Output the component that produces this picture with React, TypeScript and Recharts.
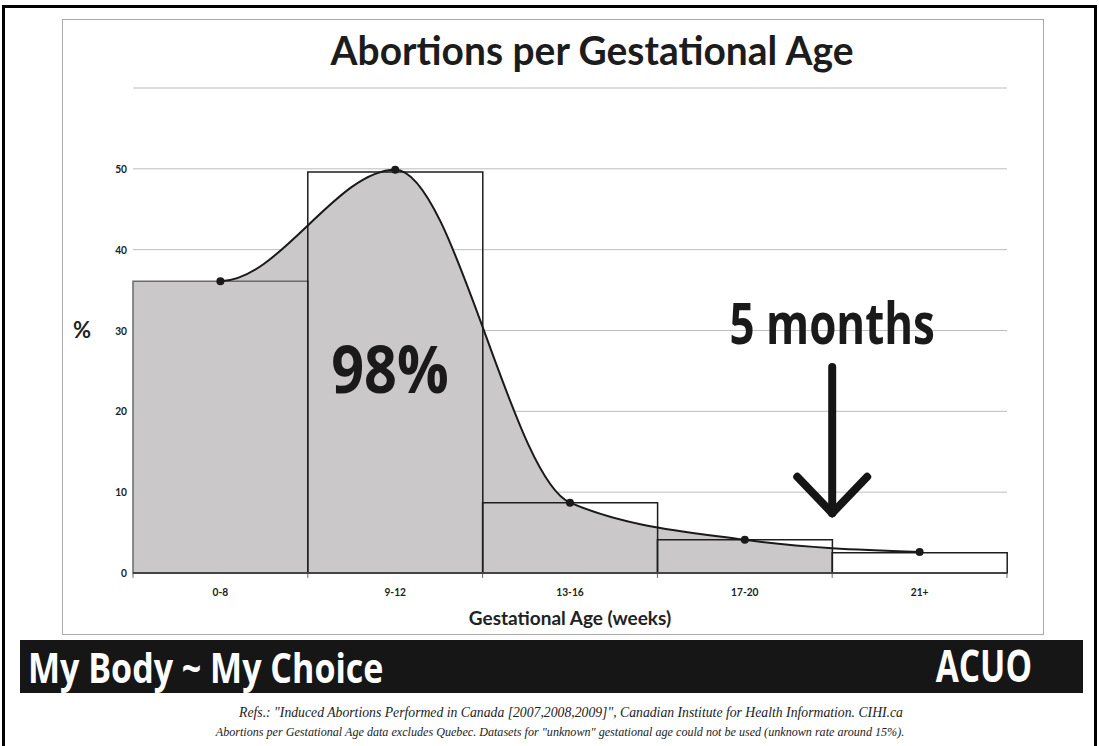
import React from 'react'
import {
  ComposedChart,
  Bar,
  Area,
  Line,
  XAxis,
  YAxis,
  CartesianGrid,
  Cell,
  ReferenceLine,
  ReferenceDot,
} from 'recharts'

// Share of abortions (%) by gestational age band
const ageGroups = ['0-8', '9-12', '13-16', '17-20', '21+']
const sharePct = [36.1, 49.6, 8.7, 4.1, 2.5]

// smoothed curve drawn over the bars (x in band units, 0..5)
const curveX = [0, 0.5, 1.5, 2.5, 3.5, 4.5]
const curveY = [36.1, 36.1, 49.9, 8.7, 4.1, 2.6]

// grey shading under the curve stops at the 17-20 / 21+ border
const shadeX = [0, 0.5, 1.5, 2.5, 3.5, 4]
const shadeY = [36.1, 36.1, 49.9, 8.7, 4.1, 3.0]

const yTicks = [0, 10, 20, 30, 40, 50, 60]
const bandEdges = [0, 1, 2, 3, 4, 5]

// "5 months" arrow, in chart units
const arrowX = 4
const arrowTop = 25.5
const arrowTip = 7.4
const headHalf = 0.2
const headRise = 4.5

const barRows = ageGroups.map((g, i) => ({ group: g, pct: sharePct[i] }))
const curveRows = curveX.map((x, i) => ({ x, v: curveY[i] }))
const shadeRows = shadeX.map((x, i) => ({ x, v: shadeY[i] }))

const W = 1099
const H = 746
const M = { top: 88, right: 92, bottom: 113, left: 73 }
const Y_AXIS_W = 60
const plotW = W - M.left - M.right - Y_AXIS_W
// the curve is only inked from the first dot on (flat lead-in is the bar top)
const leadIn = plotW / ageGroups.length / 2

function YTick({ x, y, payload }: any) {
  if (payload.value === 60) return <g />
  return (
    <text
      transform={`translate(${x},${y + 4}) scale(0.85,1)`}
      textAnchor="end"
      fontFamily="Lato"
      fontWeight={700}
      fontSize={12}
      fill="#222"
    >
      {payload.value}
    </text>
  )
}

function XTick({ x, y, payload }: any) {
  return (
    <text
      transform={`translate(${x},${y + 15}) scale(0.85,1)`}
      textAnchor="middle"
      fontFamily="Lato"
      fontWeight={700}
      fontSize={12}
      fill="#222"
    >
      {payload.value}
    </text>
  )
}

function Callout({ viewBox, text, size, squeeze }: any) {
  const cx = viewBox.x + viewBox.width / 2
  const cy = viewBox.y + viewBox.height / 2
  return (
    <text
      transform={`translate(${cx},${cy}) scale(${squeeze},1)`}
      textAnchor="middle"
      fontFamily="Open Sans"
      fontWeight={700}
      fontSize={size}
      fill="#1a1a1a"
    >
      {text}
    </text>
  )
}

function CurveDot(props: any) {
  const { cx, cy, payload, index } = props
  if (payload.x === 0) return <g key={index} />
  return <circle key={index} cx={cx} cy={cy} r={4} fill="#1a1a1a" />
}

export default function App() {
  return (
    <div style={{ position: 'relative', width: W, height: H, overflow: 'hidden', background: '#fff' }}>
      <style>{'body{margin:0;overflow:hidden}'}</style>

      {/* page frame */}
      <div
        style={{
          position: 'absolute',
          left: 2,
          top: 5,
          width: 1089,
          height: 738,
          borderTop: '3px solid #000',
          borderLeft: '3px solid #000',
          borderRight: '3px solid #000',
        }}
      />
      <div
        style={{
          position: 'absolute',
          left: 62,
          top: 19,
          width: 980,
          height: 614,
          border: '1px solid #a8a8a8',
        }}
      />

      <div style={{ position: 'absolute', left: 0, top: 0 }}>
        <ComposedChart width={W} height={H} data={barRows} barCategoryGap={0} margin={M}>
          <CartesianGrid vertical={false} stroke="#bdbdbd" strokeWidth={1} />
          <XAxis
            dataKey="group"
            type="category"
            height={60}
            interval={0}
            tickLine={false}
            axisLine={{ stroke: '#444', strokeWidth: 2 }}
            tick={<XTick />}
            label={{
              value: 'Gestational Age (weeks)',
              position: 'insideBottom',
              offset: 8,
              style: { fontFamily: 'Lato', fontWeight: 700, fontSize: 19, fill: '#222' },
            }}
          />
          <XAxis xAxisId="num" type="number" dataKey="x" domain={[0, 5]} hide allowDataOverflow />
          <YAxis
            type="number"
            domain={[0, 60]}
            ticks={yTicks}
            width={Y_AXIS_W}
            axisLine={false}
            tickLine={false}
            tickMargin={0}
            tick={<YTick />}
            label={{
              value: '%',
              position: 'insideLeft',
              offset: 0,
              style: { fontFamily: 'Lato', fontWeight: 700, fontSize: 22, fill: '#222' },
            }}
          />

          <Area
            xAxisId="num"
            data={shadeRows}
            dataKey="v"
            type="monotone"
            fill="#cbc8ca"
            fillOpacity={1}
            stroke="none"
            isAnimationActive={false}
          />
          <Bar dataKey="pct" fill="none" strokeWidth={1.5} isAnimationActive={false}>
            {barRows.map((r, i) => (
              <Cell key={r.group} fill="none" stroke={i === 0 ? '#6a6a6a' : '#1e1e1e'} />
            ))}
          </Bar>
          <Line
            xAxisId="num"
            data={curveRows}
            dataKey="v"
            type="monotone"
            stroke="#1a1a1a"
            strokeWidth={2}
            strokeDasharray={`0 ${leadIn} 100000`}
            dot={CurveDot}
            activeDot={false}
            isAnimationActive={false}
          />

          {bandEdges.map((e) => (
            <ReferenceLine
              key={e}
              xAxisId="num"
              segment={[{ x: e, y: 0 }, { x: e, y: -0.6 }]}
              stroke="#666"
              strokeWidth={1}
              ifOverflow="visible"
            />
          ))}

          <ReferenceLine
            xAxisId="num"
            segment={[{ x: arrowX, y: arrowTop }, { x: arrowX, y: arrowTip }]}
            stroke="#151515"
            strokeWidth={8}
            strokeLinecap="round"
          />
          <ReferenceLine
            xAxisId="num"
            segment={[{ x: arrowX - headHalf, y: arrowTip + headRise }, { x: arrowX, y: arrowTip }]}
            stroke="#151515"
            strokeWidth={8}
            strokeLinecap="round"
          />
          <ReferenceLine
            xAxisId="num"
            segment={[{ x: arrowX + headHalf, y: arrowTip + headRise }, { x: arrowX, y: arrowTip }]}
            stroke="#151515"
            strokeWidth={8}
            strokeLinecap="round"
          />

          <ReferenceDot
            xAxisId="num"
            x={1.47}
            y={22.3}
            r={0}
            fill="none"
            stroke="none"
            label={<Callout text="98%" size={66} squeeze={0.87} />}
          />
          <ReferenceDot
            xAxisId="num"
            x={4}
            y={28.3}
            r={0}
            fill="none"
            stroke="none"
            label={<Callout text="5 months" size={57} squeeze={0.77} />}
          />
        </ComposedChart>
      </div>

      <svg width={W} height={H} style={{ position: 'absolute', left: 0, top: 0, pointerEvents: 'none' }}>
        <text
          transform="translate(592,65) scale(0.95,1)"
          textAnchor="middle"
          fontFamily="Lato"
          fontWeight={700}
          fontSize={41}
          fill="#1c1c1c"
        >
          Abortions per Gestational Age
        </text>

        <rect x={20} y={640} width={1063} height={53} fill="#161616" />
        <text
          transform="translate(28,683) scale(0.81,1)"
          fontFamily="Open Sans"
          fontWeight={700}
          fontSize={42}
          fill="#fff"
        >
          My Body ~ My Choice
        </text>
        <text
          transform="translate(1032,682) scale(0.76,1)"
          textAnchor="end"
          fontFamily="Open Sans"
          fontWeight={700}
          fontSize={44}
          fill="#fff"
        >
          ACUO
        </text>

        <text
          transform="translate(571,717) scale(0.915,1)"
          textAnchor="middle"
          fontFamily="Liberation Serif"
          fontStyle="italic"
          fontSize={15}
          fill="#222"
        >
          Refs.: "Induced Abortions Performed in Canada [2007,2008,2009]", Canadian Institute for Health Information. CIHI.ca
        </text>
        <text
          transform="translate(560,736) scale(0.97,1)"
          textAnchor="middle"
          fontFamily="Liberation Serif"
          fontStyle="italic"
          fontSize={12.5}
          fill="#222"
        >
          Abortions per Gestational Age data excludes Quebec. Datasets for "unknown" gestational age could not be used (unknown rate around 15%).
        </text>
      </svg>
    </div>
  )
}
